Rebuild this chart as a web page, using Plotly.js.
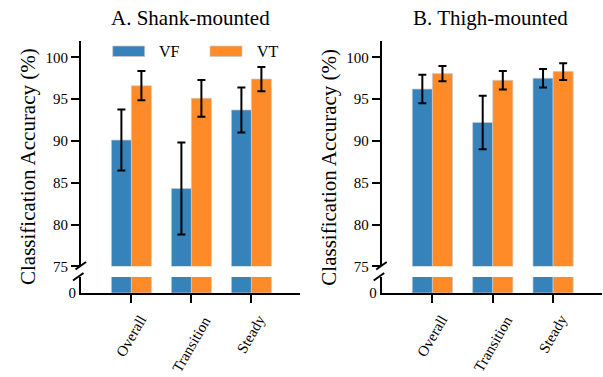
<!DOCTYPE html>
<html>
<head>
<meta charset="utf-8">
<script src="https://cdn.plot.ly/plotly-3.0.1.min.js"></script>
<style>
html,body{margin:0;padding:0;background:#fff;}
#chart{width:603px;height:377px;}
</style>
</head>
<body>
<div id="chart"></div>
<script>
// ---- data ----
const categories = ['Overall', 'Transition', 'Steady'];
const seriesNames = ['VF', 'VT'];
const panelTitles = ['A. Shank-mounted', 'B. Thigh-mounted'];
const yTitle = 'Classification Accuracy (%)';
const upperTicks = [75, 80, 85, 90, 95, 100];
const lowerTicks = [0];

const shankVF = [90.1, 84.3, 93.7];
const shankVFerr = [3.65, 5.5, 2.7];
const shankVT = [96.6, 95.1, 97.4];
const shankVTerr = [1.75, 2.2, 1.45];

const thighVF = [96.2, 92.2, 97.5];
const thighVFerr = [1.7, 3.2, 1.1];
const thighVT = [98.05, 97.25, 98.3];
const thighVTerr = [0.9, 1.1, 1.0];

// ---- styling ----
const W = 603, H = 377;
const colors = ['#3682bb', '#fe8b28'];
const serif = 'Liberation Serif';
const px = x => x / W;
const py = y => 1 - y / H;

const panels = [
  {vals: [shankVF, shankVT], errs: [shankVFerr, shankVTerr], x: 'x', yU: 'y', yL: 'y2'},
  {vals: [thighVF, thighVT], errs: [thighVFerr, thighVTerr], x: 'x2', yU: 'y3', yL: 'y4'}
];

const traces = [];
panels.forEach((p, pi) => {
  [0, 1].forEach(si => {
    traces.push({
      type: 'bar', x: categories, y: p.vals[si], name: seriesNames[si],
      xaxis: p.x, yaxis: p.yU, showlegend: false,
      marker: {color: colors[si], line: {color: 'rgba(200,200,200,0.9)', width: 0.8}},
      error_y: {type: 'data', array: p.errs[si], visible: true, color: '#000', thickness: 2, width: 4},
      hoverinfo: 'skip'
    });
    traces.push({
      type: 'bar', x: categories, y: p.vals[si], name: seriesNames[si],
      xaxis: p.x, yaxis: p.yL, showlegend: false,
      marker: {color: colors[si], line: {color: 'rgba(200,200,200,0.9)', width: 0.8}},
      hoverinfo: 'skip'
    });
  });
});

const upperDom = [py(266.3), py(40.6)];
const lowerDom = [py(293), py(277)];
const xDomL = [px(81), px(300)];
const xDomR = [px(381.7), px(602)];
const xRange = [-0.84, 2.81];

function xaxis(dom, anchor) {
  return {
    domain: dom, anchor: anchor, range: xRange, type: 'category',
    showline: true, linecolor: '#000', linewidth: 2,
    ticks: 'outside', ticklen: 8, tickwidth: 2, tickcolor: '#000',
    showticklabels: false, showgrid: false, zeroline: false
  };
}
function yaxisU(anchor) {
  return {
    domain: upperDom, anchor: anchor, range: [75, 102],
    tickvals: upperTicks, ticktext: upperTicks.map(String),
    showline: true, linecolor: '#000', linewidth: 2,
    ticks: 'outside', ticklen: 8, tickwidth: 2, tickcolor: '#000',
    showgrid: false, zeroline: false,
    tickfont: {family: serif, size: 15, color: '#000'}
  };
}
function yaxisL(anchor) {
  return {
    domain: lowerDom, anchor: anchor, range: [0, 5],
    tickvals: lowerTicks, ticktext: lowerTicks.map(String),
    showline: true, linecolor: '#000', linewidth: 2,
    ticks: '', showgrid: false, zeroline: false,
    tickfont: {family: serif, size: 15, color: '#000'}
  };
}

const shapes = [];
const annotations = [];
[0, 300.7].forEach((dx, pi) => {
  [[75.5, 269.5, 86, 262], [73, 280.5, 83.5, 273]].forEach(s => {
    shapes.push({type: 'line', xref: 'paper', yref: 'paper',
      x0: px(s[0] + dx), y0: py(s[1]), x1: px(s[2] + dx), y1: py(s[3]),
      line: {color: '#000', width: 2}});
  });
  annotations.push({xref: 'paper', yref: 'paper', x: px(190 + dx), y: py(18),
    text: panelTitles[pi], showarrow: false, xanchor: 'center', yanchor: 'middle',
    font: {family: serif, size: 21, color: '#000'}});
  annotations.push({xref: 'paper', yref: 'paper', x: px(28 + dx), y: py(167),
    text: yTitle, textangle: -90, showarrow: false, xanchor: 'center', yanchor: 'middle',
    font: {family: serif, size: 21, color: '#000'}});
  // category labels, rotated and centred under each tick
  categories.forEach(c => {
    annotations.push({xref: pi === 0 ? 'x' : 'x2', yref: 'paper', x: c, y: py(310),
      text: c, textangle: -60, showarrow: false, xanchor: 'center', yanchor: 'top',
      font: {family: serif, size: 15, color: '#000'}});
  });
});

[[112.7, 157], [210, 255]].forEach((l, i) => {
  shapes.push({type: 'rect', xref: 'paper', yref: 'paper',
    x0: px(l[0]), x1: px(l[0] + 32), y0: py(56.5), y1: py(46),
    fillcolor: colors[i], line: {color: 'rgba(200,200,200,0.9)', width: 0.8}});
  annotations.push({xref: 'paper', yref: 'paper', x: px(l[1]), y: py(51.5),
    text: seriesNames[i], showarrow: false, xanchor: 'left', yanchor: 'middle',
    font: {family: serif, size: 16, color: '#000'}});
});

const layout = {
  width: W, height: H,
  margin: {l: 0, r: 0, t: 0, b: 0, pad: 0},
  paper_bgcolor: '#fff', plot_bgcolor: 'rgba(0,0,0,0)',
  font: {family: serif, color: '#000'},
  barmode: 'group', bargap: 1 / 3, bargroupgap: 0,
  showlegend: false,
  xaxis: xaxis(xDomL, 'y2'),
  xaxis2: xaxis(xDomR, 'y4'),
  yaxis: yaxisU('x'),
  yaxis2: yaxisL('x'),
  yaxis3: yaxisU('x2'),
  yaxis4: yaxisL('x2'),
  shapes: shapes,
  annotations: annotations
};

Plotly.newPlot('chart', traces, layout, {staticPlot: true, displayModeBar: false});
</script>
</body>
</html>
